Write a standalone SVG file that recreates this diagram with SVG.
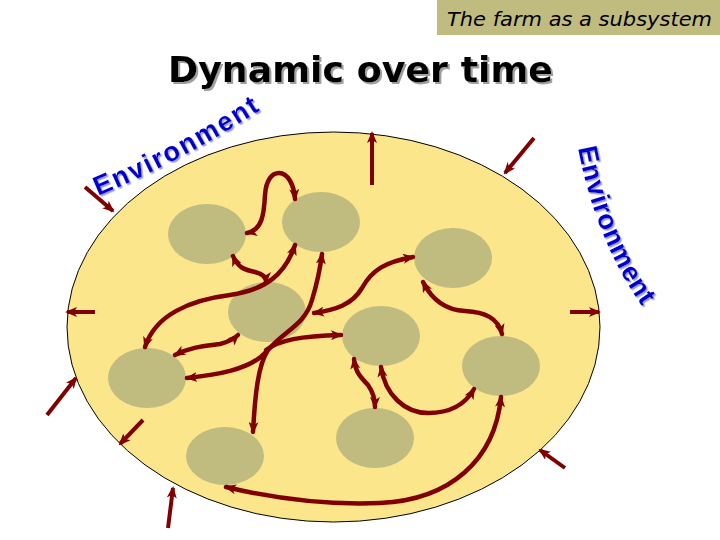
<svg xmlns="http://www.w3.org/2000/svg" width="720" height="540" viewBox="0 0 720 540">
<style>
.node{fill:#C0BC80;}
.c{fill:none;stroke:#800000;stroke-width:4.5;stroke-linecap:round;}
.o{fill:none;stroke:#800000;stroke-width:4;}
.env{font-family:"Liberation Sans",Arial,sans-serif;font-weight:bold;font-size:27px;fill:#0000CC;filter:url(#bshadow);}
</style>
<defs>
<marker id="ah" viewBox="0 0 12 10" refX="10" refY="5" markerWidth="12" markerHeight="10" markerUnits="userSpaceOnUse" orient="auto-start-reverse">
<path d="M0,0 L12,5 L0,10 L3,5 z" fill="#800000"/>
</marker>
<filter id="bshadow" x="-10%" y="-30%" width="130%" height="160%">
<feDropShadow dx="1.5" dy="1.5" stdDeviation="0.3" flood-color="#9999CC" flood-opacity="1"/>
</filter>
<filter id="gshadow" x="-5%" y="-20%" width="110%" height="150%">
<feDropShadow dx="2" dy="2" stdDeviation="0.4" flood-color="#A0A0A0" flood-opacity="1"/>
</filter>
<path id="envL" d="M 98,196 Q 185,160 270,104"/>
<path id="envR" d="M 578,148 Q 598,252 654,322"/>
</defs>
<rect width="720" height="540" fill="#FFFFFF"/>
<g id="header">
<rect x="437" y="0" width="283" height="35" fill="#C0BC80"/>
<text x="447" y="26" font-family="'DejaVu Sans',sans-serif" font-style="italic" font-size="20" textLength="265" lengthAdjust="spacingAndGlyphs" fill="#000">The farm as a subsystem</text>
</g>
<g id="title">
<text x="168" y="82" font-family="'DejaVu Sans',sans-serif" font-weight="bold" font-size="36" textLength="385" lengthAdjust="spacingAndGlyphs" fill="#000000" filter="url(#gshadow)">Dynamic over time</text>
</g>
<g id="system">
<ellipse cx="333.5" cy="327" rx="266.5" ry="195" fill="#FCE68C" stroke="#000" stroke-width="1"/>
</g>
<g id="env-left">
<text class="env"><textPath href="#envL" textLength="184" lengthAdjust="spacing">Environment</textPath></text>
</g>
<g id="env-right">
<text class="env"><textPath href="#envR" textLength="172" lengthAdjust="spacing">Environment</textPath></text>
</g>
<g id="n1"><ellipse class="node" cx="207" cy="234" rx="39" ry="30"/></g>
<g id="n2"><ellipse class="node" cx="321" cy="222" rx="39" ry="30"/></g>
<g id="n3"><ellipse class="node" cx="453" cy="258" rx="39" ry="30"/></g>
<g id="n4"><ellipse class="node" cx="267" cy="312" rx="39" ry="30"/></g>
<g id="n5"><ellipse class="node" cx="381" cy="336" rx="39" ry="30"/></g>
<g id="n6"><ellipse class="node" cx="501" cy="366" rx="39" ry="30"/></g>
<g id="n7"><ellipse class="node" cx="147" cy="378" rx="39" ry="30"/></g>
<g id="n8"><ellipse class="node" cx="225" cy="456" rx="39" ry="29"/></g>
<g id="n9"><ellipse class="node" cx="375" cy="438" rx="39" ry="30"/></g>
<g id="connectors">
<path class="c" marker-start="url(#ah)" marker-end="url(#ah)" d="M 247,233 C 262,230 264,215 265,195 C 266,180 272,173 279,173 C 288,173 294,185 295,199"/>
<path class="c" marker-start="url(#ah)" marker-end="url(#ah)" d="M 233,256 C 238,268 245,270 255,272 C 263,274 266,278 266,282"/>
<path class="c" marker-start="url(#ah)" marker-end="url(#ah)" d="M 295,245 C 285,275 265,290 230,295 C 190,300 155,315 145,347"/>
<path class="c" marker-start="url(#ah)" marker-end="url(#ah)" d="M 175,355 C 190,347 205,346 220,344 C 228,342 233,340 238,335"/>
<path class="c" marker-start="url(#ah)" marker-end="url(#ah)" d="M 253,432 C 255,395 258,365 268,350 C 285,330 305,325 312,300 C 318,280 320,270 322,254"/>
<path class="c" marker-start="url(#ah)" d="M 187,378 C 215,375 250,370 266,352"/>
<path class="c" marker-end="url(#ah)" d="M 266,350 C 280,340 300,336 341,335"/>
<path class="c" marker-start="url(#ah)" marker-end="url(#ah)" d="M 413,257 C 385,262 372,270 362,288 C 352,305 335,310 314,313"/>
<path class="c" marker-start="url(#ah)" marker-end="url(#ah)" d="M 423,282 C 432,300 445,310 465,311 C 485,312 498,318 502,334"/>
<path class="c" marker-start="url(#ah)" marker-end="url(#ah)" d="M 354,359 C 356,375 362,378 368,385 C 373,392 375,398 375,407"/>
<path class="c" marker-start="url(#ah)" marker-end="url(#ah)" d="M 381,367 C 385,395 405,413 428,413 C 450,413 465,405 474,389"/>
<path class="c" marker-start="url(#ah)" marker-end="url(#ah)" d="M 226,487 C 280,500 330,505 380,503 C 450,500 495,460 501,397"/>
<path class="o" marker-end="url(#ah)" d="M 85,187 L 113,211"/>
<path class="o" marker-end="url(#ah)" d="M 372,185 L 372,133"/>
<path class="o" marker-end="url(#ah)" d="M 534,138 L 505,173"/>
<path class="o" marker-end="url(#ah)" d="M 570,312 L 599,312"/>
<path class="o" marker-end="url(#ah)" d="M 95,312 L 67,312"/>
<path class="o" marker-end="url(#ah)" d="M 47,415 L 76,378"/>
<path class="o" marker-end="url(#ah)" d="M 143,420 L 120,444"/>
<path class="o" marker-end="url(#ah)" d="M 168,528 L 173,488"/>
<path class="o" marker-end="url(#ah)" d="M 565,468 L 540,450"/>
</g>
</svg>
